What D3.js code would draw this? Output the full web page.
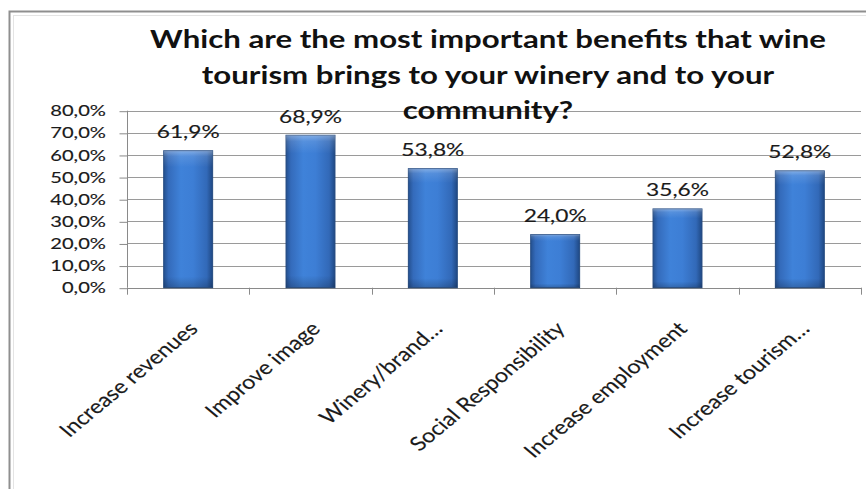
<!DOCTYPE html>
<html>
<head>
<meta charset="utf-8">
<script src="https://cdn.jsdelivr.net/npm/d3@7"></script>
<style>
  html, body { margin: 0; padding: 0; background: #fff; }
  svg { display: block; }
  text { font-family: Lato, "Open Sans", sans-serif; fill: #1a1a1a; }
  .reg { stroke: #1a1a1a; stroke-width: 0.15px; }
</style>
</head>
<body>
<svg id="chart" width="866" height="489"></svg>
<script>
// Survey results: share of wineries naming each benefit
const categories = [
  "Increase revenues",
  "Improve image",
  "Winery/brand…",
  "Social Responsibility",
  "Increase employment",
  "Increase tourism…"
];
const values = [0.619, 0.689, 0.538, 0.240, 0.356, 0.528];
const yTicks = [0, 0.1, 0.2, 0.3, 0.4, 0.5, 0.6, 0.7, 0.8];
const titleLines = [
  "Which are the most important benefits that wine",
  "tourism brings to your winery and to your",
  "community?"
];

const W = 866, H = 489;
const SX = 1.3;      // horizontal stretch of upright text
const SX_ROT = 1.2;  // horizontal stretch of slanted category labels
const plot = { left: 127, right: 861, top: 110.7, bottom: 287.7 };

const svg = d3.select("#chart");
const fmt = v => d3.format(".1f")(v * 100).replace(".", ",") + "%";

// gradients for the bars
const defs = svg.append("defs");
const hg = defs.append("linearGradient").attr("id", "barH")
  .attr("x1", "0").attr("x2", "1").attr("y1", "0").attr("y2", "0");
[["0%", "#24508f"], ["10%", "#346bbb"], ["35%", "#3f82d9"], ["60%", "#3d7ed5"],
 ["88%", "#3269b8"], ["100%", "#1f4883"]]
  .forEach(([o, c]) => hg.append("stop").attr("offset", o).attr("stop-color", c));
const vg = defs.append("linearGradient").attr("id", "barV")
  .attr("x1", "0").attr("x2", "0").attr("y1", "0").attr("y2", "1");
[["0%", "#ffffff", 0.35], ["4%", "#ffffff", 0.12], ["12%", "#ffffff", 0],
 ["92%", "#000000", 0], ["100%", "#000000", 0.2]]
  .forEach(([o, c, a]) => vg.append("stop").attr("offset", o)
    .attr("stop-color", c).attr("stop-opacity", a));

// frame
svg.append("rect").attr("x", 9.5).attr("y", 11.5).attr("width", W + 20).attr("height", H + 20)
  .attr("fill", "#fff").attr("stroke", "#8f8f8f").attr("stroke-width", 2);
svg.append("rect").attr("x", 13.5).attr("y", 15.5).attr("width", W + 20).attr("height", H + 20)
  .attr("fill", "none").attr("stroke", "#e4e4e4").attr("stroke-width", 1);

const x = d3.scaleBand().domain(categories)
  .range([plot.left, plot.right]).paddingInner(0.6).paddingOuter(0.3);
const y = d3.scaleLinear().domain([0, 0.8]).range([plot.bottom, plot.top]);

// gridlines
svg.append("g").selectAll("line").data(yTicks.filter(t => t > 0)).join("line")
  .attr("x1", plot.left).attr("x2", plot.right)
  .attr("y1", d => Math.round(y(d)) + 0.5).attr("y2", d => Math.round(y(d)) + 0.5)
  .attr("stroke", "#9a9a9a").attr("stroke-width", 1);

// y axis
const yAxis = svg.append("g").attr("transform", `translate(${plot.left + 0.5},0)`)
  .call(d3.axisLeft(y).tickValues(yTicks).tickSize(8).tickPadding(0).tickFormat(() => ""));
yAxis.selectAll("path, line").attr("stroke", "#8a8a8a");
yAxis.select(".domain").attr("d", `M0,${plot.top}V${plot.bottom}`);
yAxis.selectAll(".tick line").attr("transform", "translate(0,0.5)");

svg.append("g").selectAll("text").data(yTicks).join("text")
  .attr("class", "reg")
  .attr("transform", d => `translate(106,${y(d)}) scale(${SX},1)`)
  .attr("text-anchor", "end").attr("dy", "0.36em")
  .style("font-size", "15.5px")
  .text(fmt);

// x axis
const bounds = d3.range(categories.length + 1).map(i => plot.left + i * x.step());
const xAxis = svg.append("g");
xAxis.append("line").attr("x1", plot.left).attr("x2", plot.right)
  .attr("y1", Math.round(plot.bottom) + 0.5).attr("y2", Math.round(plot.bottom) + 0.5)
  .attr("stroke", "#8a8a8a");
xAxis.selectAll("line.tk").data(bounds).join("line").attr("class", "tk")
  .attr("x1", d => Math.round(d) + 0.5).attr("x2", d => Math.round(d) + 0.5)
  .attr("y1", plot.bottom).attr("y2", plot.bottom + 7)
  .attr("stroke", "#8a8a8a");

svg.append("g").selectAll("text").data(categories).join("text")
  .attr("class", "reg")
  .attr("transform", d => `translate(${x(d) + x.bandwidth() / 2 + 11},330) scale(${SX_ROT},1) rotate(-45)`)
  .attr("text-anchor", "end")
  .style("font-size", "19.5px")
  .text(d => d);

// bars
const bars = svg.append("g").selectAll("g").data(categories).join("g");
bars.append("rect")
  .attr("x", d => x(d)).attr("width", x.bandwidth())
  .attr("y", (d, i) => y(values[i])).attr("height", (d, i) => y(0) - y(values[i]))
  .attr("fill", "url(#barH)").attr("stroke", "#244a80").attr("stroke-width", 1);
bars.append("rect")
  .attr("x", d => x(d)).attr("width", x.bandwidth())
  .attr("y", (d, i) => y(values[i])).attr("height", (d, i) => y(0) - y(values[i]))
  .attr("fill", "url(#barV)");

// value labels
svg.append("g").selectAll("text").data(categories).join("text")
  .attr("class", "reg")
  .attr("transform", (d, i) => `translate(${x(d) + x.bandwidth() / 2},${y(values[i]) - 12.5}) scale(${SX},1)`)
  .attr("text-anchor", "middle")
  .style("font-size", "17.5px")
  .text((d, i) => fmt(values[i]));

// title
svg.append("g").selectAll("text").data(titleLines).join("text")
  .attr("transform", (d, i) => `translate(488,${48 + i * 35.5}) scale(${SX},1)`)
  .attr("text-anchor", "middle")
  .style("font-size", "24px").style("font-weight", "bold").style("fill", "#111")
  .text(d => d);
</script>
</body>
</html>
